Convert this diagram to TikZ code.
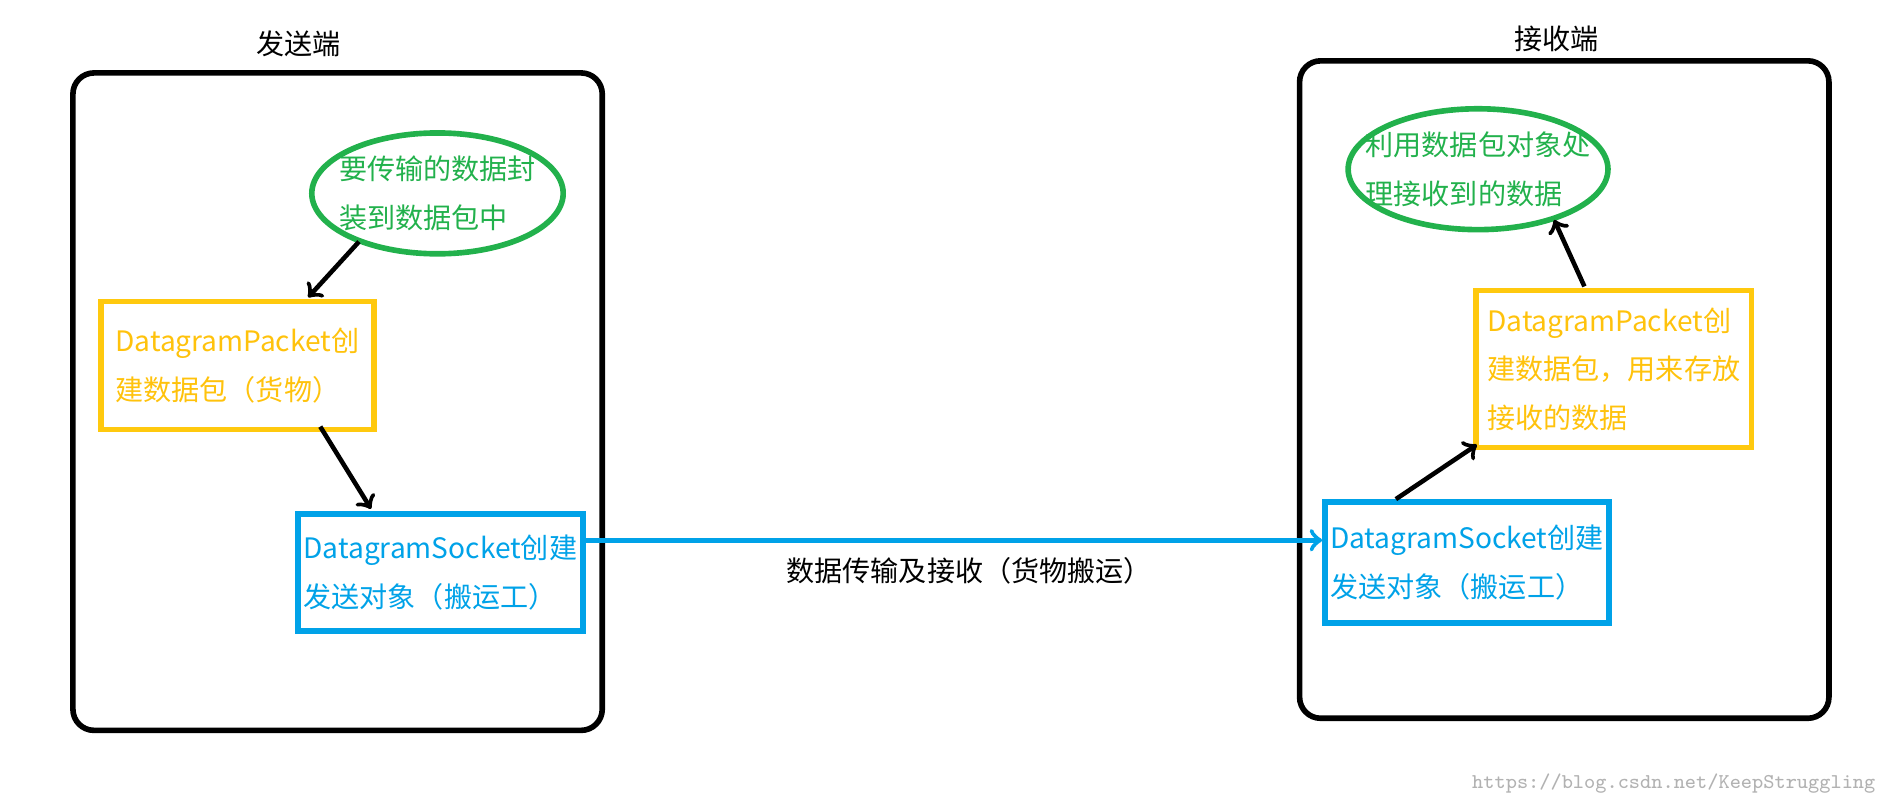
\documentclass[tikz,border=0pt]{standalone}
\usepackage{fontspec}
\setmainfont{Noto Sans CJK SC}
\usetikzlibrary{shapes.geometric}
\definecolor{grn}{RGB}{34,177,76}
\definecolor{ylw}{RGB}{255,201,14}
\definecolor{blu}{RGB}{0,162,232}
\begin{document}
\begin{tikzpicture}[
    x=0.012086cm, y=-0.012086cm,
    every node/.style = { font=\fontsize{8}{13.8}\selectfont, align=left },
    frame/.style = { draw, line width=1.6pt, rounded corners=6pt },
    goal/.style = { draw=grn, ellipse, line width=1.6pt, text=grn, inner sep=-6pt },
    packet/.style = { draw=ylw, rectangle, line width=1.6pt, text=ylw!90!orange, anchor=north west, inner sep=1pt },
    socket/.style = { draw=blu, rectangle, line width=1.6pt, text=blu, anchor=north west, inner sep=1pt },
    flow/.style = { ->, line width=1.3pt }
    ]
\useasboundingbox (0,0) rectangle (1568,664);
\node[frame, minimum width=438*0.012086cm, minimum height=544*0.012086cm, anchor=north west] (LF) at (58,58) {};
\node[frame, minimum width=438*0.012086cm, minimum height=544*0.012086cm, anchor=north west] (RF) at (1073,48) {};
\node (LT) at (247,36) {发送端};
\node (RT) at (1288,32) {接收端};
%
\node[goal, minimum width=208*0.012086cm, minimum height=100*0.012086cm] (LG) at (362,160) {要传输的数据封\\装到数据包中};
\node[packet, minimum width=226*0.012086cm, minimum height=106*0.012086cm] (LP) at (81,247) {DatagramPacket创\\建数据包（货物）};
\node[socket, minimum width=236*0.012086cm, minimum height=97*0.012086cm] (LS) at (244,423) {DatagramSocket创建\\发送对象（搬运工）};
%
\node[goal, minimum width=215*0.012086cm, minimum height=100*0.012086cm] (RG) at (1223,140) {利用数据包对象处\\理接收到的数据};
\node[packet, minimum width=228*0.012086cm, minimum height=130*0.012086cm] (RP) at (1219,238) {DatagramPacket创\\建数据包，用来存放\\接收的数据};
\node[socket, minimum width=235*0.012086cm, minimum height=100*0.012086cm] (RS) at (1094,413) {DatagramSocket创建\\发送对象（搬运工）};
%
\node (TX) at (802,472) {数据传输及接收（货物搬运）};
\node[font=\fontsize{6}{7}\ttfamily, text=gray!60, anchor=east] (WM) at (1562,648) {https://blog.csdn.net/KeepStruggling};
%
\coordinate (LG1) at (297,200); \coordinate (LP1) at (255,246);
\coordinate (LP2) at (265,353); \coordinate (LS1) at (307,421);
\coordinate (RS1) at (1155,413); \coordinate (RP1) at (1222,368);
\coordinate (RP2) at (1311,237); \coordinate (RG1) at (1286,182);
\foreach \Source/\Target in {%
        LG1/LP1,
        LP2/LS1,
        RS1/RP1,
        RP2/RG1%
    }
\draw[flow] (\Source) to (\Target);
\draw[flow, blu] (LS.east |- 0,447) to (RS.west |- 0,447);
\end{tikzpicture}
\end{document}
